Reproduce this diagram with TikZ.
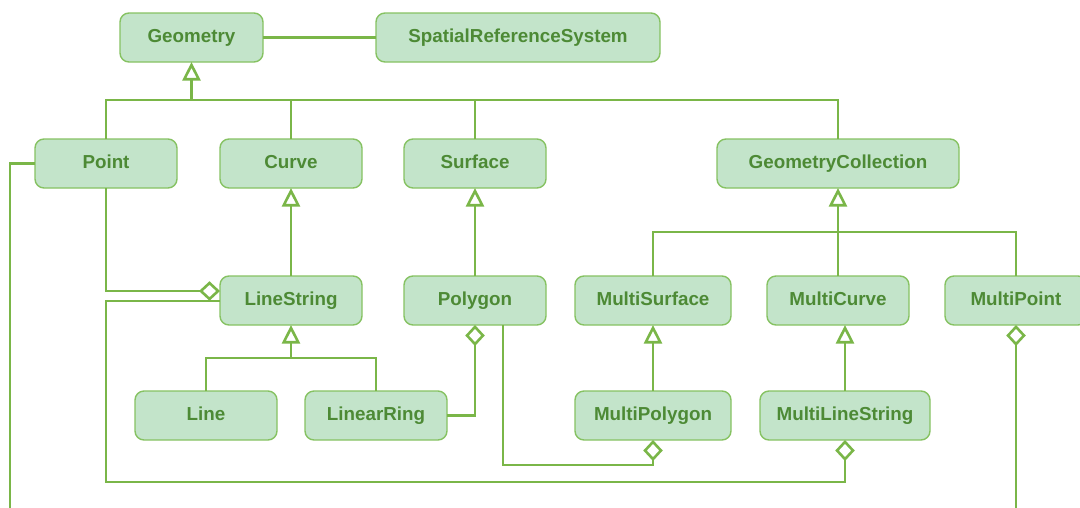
\documentclass[tikz,border=0pt]{standalone}
\usepackage{fontspec}
\setmainfont{Liberation Sans}
\usetikzlibrary{arrows.meta}
\definecolor{boxfill}{HTML}{C3E4CA}
\definecolor{boxline}{HTML}{86C262}
\definecolor{wire}{HTML}{7AB648}
\definecolor{label}{HTML}{4D8A35}
\tikzset{
  cls/.style={rectangle, rounded corners=9pt, draw=boxline, line width=1.4pt,
    fill=boxfill, minimum height=49pt, inner sep=0pt, outer sep=0pt,
    text=label, text height=13.5pt, text depth=4.5pt,
    font=\fontsize{18.8}{22}\selectfont\bfseries},
  wireline/.style={draw=wire, line width=2.6pt},
  gen/.style={wireline, -{Triangle[open, length=18.5pt, width=18pt]}},
  agg/.style={wireline, -{Diamond[open, length=21pt, width=19.5pt]}}
}
\begin{document}
\begin{tikzpicture}[x=1pt, y=-1pt]
\useasboundingbox (0,0) rectangle (1080,507);
\clip (0,0) rectangle (1080,507);

% classes
\node[cls, minimum width=143pt] (geom)    at (191.5,37.5) {Geometry};
\node[cls, minimum width=284pt] (srs)     at (518,37.5)   {SpatialReferenceSystem};
\node[cls, minimum width=142pt] (point)   at (106,163.5)  {Point};
\node[cls, minimum width=142pt] (curve)   at (291,163.5)  {Curve};
\node[cls, minimum width=142pt] (surface) at (475,163.5)  {Surface};
\node[cls, minimum width=242pt] (gcoll)   at (838,163.5)  {GeometryCollection};
\node[cls, minimum width=142pt] (lstr)    at (291,300.5)  {LineString};
\node[cls, minimum width=142pt] (poly)    at (475,300.5)  {Polygon};
\node[cls, minimum width=156pt] (msurf)   at (653,300.5)  {MultiSurface};
\node[cls, minimum width=142pt] (mcurve)  at (838,300.5)  {MultiCurve};
\node[cls, minimum width=142pt] (mpoint)  at (1016,300.5) {MultiPoint};
\node[cls, minimum width=142pt] (line)    at (206,415.5)  {Line};
\node[cls, minimum width=142pt] (lring)   at (376,415.5)  {LinearRing};
\node[cls, minimum width=156pt] (mpoly)   at (653,415.5)  {MultiPolygon};
\node[cls, minimum width=170pt] (mls)     at (845,415.5)  {MultiLineString};

% junction points and free ends
\coordinate (busG) at (191.5,100);
\coordinate (busC) at (838,232);
\coordinate (busL) at (291,358);
\coordinate (pmTurn) at (503,465);
\coordinate (lsTurn) at (106,482);
\coordinate (pointOut) at (10,512);
\coordinate (mpointOut) at (1016,512);

% association
\draw[wireline] (geom.east) -- (srs.west);

% generalization to Geometry
\draw[gen] (busG) -- (geom.south);
\draw[wireline] (point.north) |- (busG) -| (gcoll.north);
\draw[wireline] (curve.north) -- (curve.north |- busG);
\draw[wireline] (surface.north) -- (surface.north |- busG);

% second level generalizations
\draw[gen] (lstr.north) -- (curve.south);
\draw[gen] (poly.north) -- (surface.south);
\draw[gen] (busL) -- (lstr.south);
\draw[wireline] (line.north) |- (busL) -| (lring.north);
\draw[gen] (mcurve.north) -- (gcoll.south);
\draw[wireline] (msurf.north) |- (busC) -| (mpoint.north);
\draw[gen] (mpoly.north) -- (msurf.south);
\draw[gen] (mls.north) -- (mls.north |- mcurve.south);

% aggregations
\draw[agg] (point.south) |- ([yshift=9.5pt]lstr.west);
\draw[agg] ([yshift=-0.5pt]lstr.west) -| (lsTurn) -| (mls.south);
\draw[agg] (lring.east) -| (poly.south);
\draw[agg] ([xshift=28pt]poly.south) |- (pmTurn) -| (mpoly.south);
\draw[agg] (mpointOut) -- (mpoint.south);

% open end from Point
\draw[wireline] (point.west) -| (pointOut);
\end{tikzpicture}
\end{document}
